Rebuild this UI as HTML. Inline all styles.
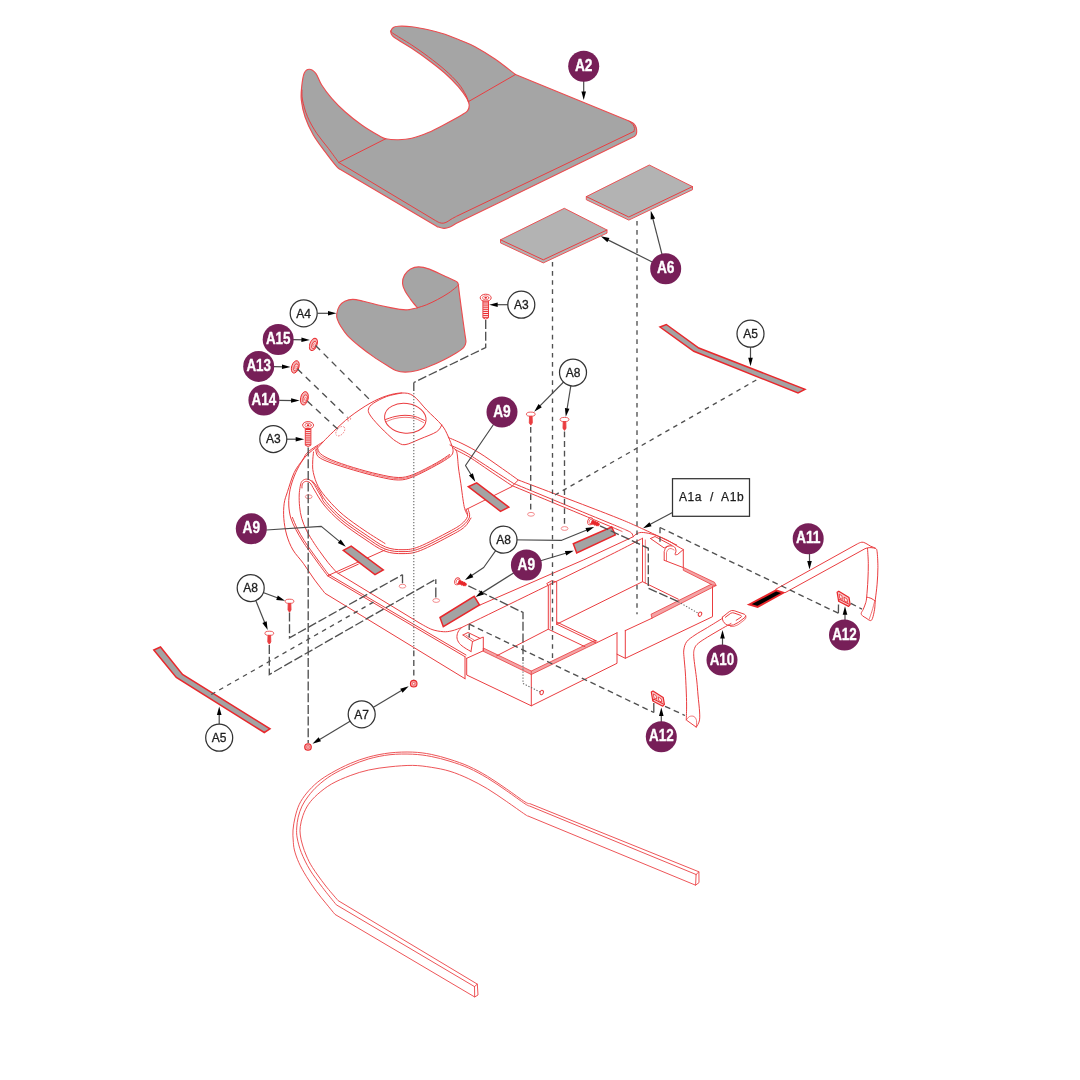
<!DOCTYPE html>
<html lang="en"><head><meta charset="utf-8"><title>Exploded parts diagram</title>
<style>
html,body{margin:0;padding:0;background:#fff;}
body{width:1080px;height:1080px;overflow:hidden;font-family:"Liberation Sans",sans-serif;}
svg{display:block;}
.r{fill:none;stroke:#ea3d40;stroke-width:1;stroke-linejoin:round;stroke-linecap:round;}
.rt{fill:none;stroke:#ec4c4f;stroke-width:.95;stroke-linejoin:round;stroke-linecap:round;}
.r2{fill:none;stroke:#ea3d40;stroke-width:.7;stroke-linejoin:round;stroke-linecap:round;}
.rw{fill:#fff;stroke:#ea3d40;stroke-width:1;stroke-linejoin:round;}
.rh{fill:#fff;stroke:#ef6568;stroke-width:.75;}
.rf{fill:#ef5a5c;stroke:#ea3d40;stroke-width:.6;stroke-linejoin:round;}
.hb{fill:#f3a3a5;stroke:#ea3d40;stroke-width:.8;stroke-linejoin:round;}
.rb{fill:none;stroke:#e8282c;stroke-width:1.3;stroke-linejoin:round;stroke-linecap:round;}
.g{fill:#a5a5a5;stroke:#ec4d50;stroke-width:1.15;stroke-linejoin:round;}
.g2{fill:#b3b3b3;stroke:#ec4d50;stroke-width:.95;stroke-linejoin:round;}
.gs{fill:#a3a3a3;stroke:#e8282c;stroke-width:1.5;stroke-linejoin:miter;}
.bk{fill:#111;stroke:#e8282c;stroke-width:1.2;stroke-linejoin:miter;}
.k{fill:none;stroke:#4a4a4a;stroke-width:1.2;stroke-linejoin:round;}
.ah{fill:#000;stroke:none;}
.d{fill:none;stroke:#505050;stroke-width:1.35;stroke-dasharray:9 2.7;}
.d2{fill:none;stroke:#505050;stroke-width:1.35;stroke-dasharray:4.6 4.5;}
.d3{fill:none;stroke:#505050;stroke-width:1.35;stroke-dasharray:5.8 3.8;}
.d4{fill:none;stroke:#505050;stroke-width:1.35;stroke-dasharray:6.5 5;}
.ds{fill:none;stroke:#505050;stroke-width:1.35;}
.dd{fill:none;stroke:#666;stroke-width:1.1;stroke-dasharray:1.3 1.7;}
.dr{fill:none;stroke:#ea3d40;stroke-width:.6;stroke-dasharray:1.5 1.2;}
.bp{fill:#771f58;}
.bw{fill:#fff;stroke:#333;stroke-width:1.25;}
.bx{fill:#fff;stroke:#333;stroke-width:1.25;}
.tp{stroke:#fff;stroke-width:.35px;stroke-linejoin:round;fill:#fff;font-family:"Liberation Sans",sans-serif;font-weight:700;font-size:16.3px;text-anchor:middle;}
.tw{stroke:#222;stroke-width:.3px;fill:#1a1a1a;font-family:"Liberation Sans",sans-serif;font-size:12px;text-anchor:middle;}
.tb{stroke:#222;stroke-width:.25px;fill:#1a1a1a;font-family:"Liberation Sans",sans-serif;font-size:12px;text-anchor:middle;letter-spacing:.6px;}
</style></head>
<body>
<svg width="1080" height="1080" viewBox="0 0 1080 1080">
<defs><filter id="soft" x="0" y="0" width="1080" height="1080" filterUnits="userSpaceOnUse" color-interpolation-filters="sRGB"><feGaussianBlur stdDeviation="0.45"/></filter></defs>
<g filter="url(#soft)">
<rect x="0" y="0" width="1080" height="1080" fill="#fff"/>
<path class="g" d="M515.5,74.5L629,121C629.83,121.47 632.78,122.63 634,123.8C635.22,124.97 635.9,126.33 636.3,128C636.7,129.67 636.73,132.37 636.4,133.8C636.07,135.23 634.65,136.13 634.3,136.6L456,223.6C455,224.17 452,226.2 450,227C448,227.8 446.17,228.47 444,228.4C441.83,228.33 438.17,226.9 437,226.6L340,169.3C339.45,168.87 339.2,169.63 336.7,166.7C334.2,163.77 328.9,156.98 325,151.7C321.1,146.42 316.63,140.83 313.3,135C309.97,129.17 307,122.53 305,116.7C303,110.87 301.85,105 301.3,100C300.75,95 301.22,91.15 301.7,86.7C302.18,82.25 302.95,76.22 304.2,73.3C305.45,70.38 307.27,69.2 309.2,69.2C311.13,69.2 313.72,70.67 315.8,73.3C317.88,75.93 319.05,80.83 321.7,85C324.35,89.17 327.82,93.85 331.7,98.3C335.58,102.75 340,107.25 345,111.7C350,116.15 356.15,121.07 361.7,125C367.25,128.93 374.28,133.02 378.3,135.3C382.32,137.58 382.47,137.97 385.8,138.7C389.13,139.43 393.98,139.77 398.3,139.7C402.62,139.63 406.7,139.5 411.7,138.3C416.7,137.1 422.75,134.85 428.3,132.5C433.85,130.15 439.43,127.12 445,124.2C450.57,121.28 457.95,117.23 461.7,115C465.45,112.77 466.25,112.47 467.5,110.8C468.75,109.13 469.33,107.08 469.2,105C469.07,102.92 468.52,101.35 466.7,98.3C464.88,95.25 461.92,90.87 458.3,86.7C454.68,82.53 450,77.75 445,73.3C440,68.85 433.85,64.17 428.3,60C422.75,55.83 416.7,51.63 411.7,48.3C406.7,44.97 401.5,42.08 398.3,40C395.1,37.92 393.75,37.18 392.5,35.8C391.25,34.42 390.67,33.08 390.8,31.7C390.93,30.32 392.05,28.42 393.3,27.5C394.55,26.58 395.23,26.33 398.3,26.2C401.37,26.07 406.7,26.12 411.7,26.7C416.7,27.28 422.75,28.45 428.3,29.7C433.85,30.95 439.43,32.35 445,34.2C450.57,36.05 456.7,38.72 461.7,40.8C466.7,42.88 469.45,43.67 475,46.7C480.55,49.73 488.25,54.37 495,59C501.75,63.63 512.08,71.92 515.5,74.5Z"/>
<path class="r" d="M633.8,131.5L456.5,216.3C455.58,216.8 452.58,218.37 451,219.3C449.42,220.23 448.3,221.25 447,221.9C445.7,222.55 444.48,223.08 443.2,223.2C441.92,223.32 440.58,223.03 439.3,222.6C438.02,222.17 436.13,220.93 435.5,220.6L338.7,162.5C336.97,160.13 331.97,153.17 328.3,148.3C324.63,143.43 320.17,138.57 316.7,133.3C313.23,128.03 309.87,122.25 307.5,116.7C305.13,111.15 303.42,104.45 302.5,100C301.58,95.55 302.08,91.67 302,90"/>
<path class="r" d="M629,121C629.67,121.58 632.08,123.25 633,124.5C633.92,125.75 634.37,127.33 634.5,128.5C634.63,129.67 633.92,131 633.8,131.5"/>
<path class="r" d="M468.3,101.7C467.88,100.58 467.47,98.07 465.8,95C464.13,91.93 461.77,87.47 458.3,83.3C454.83,79.13 450,74.43 445,70C440,65.57 433.85,60.87 428.3,56.7C422.75,52.53 417.67,48.95 411.7,45C405.73,41.05 395.95,35.42 392.5,33C389.05,30.58 391.25,30.92 391,30.5"/>
<path class="r" d="M385.8,138.7 L338.7,162.5"/>
<path class="r" d="M468.3,101.7 L515.5,74.5"/>
<path class="g2" d="M586.3,196.6 L649.3,165 L692.5,186.6 L692.5,189.7 L628.8,220.1 L586.3,199.7Z"/>
<path class="r" d="M586.3,196.6 L628.8,217 L692.5,186.6"/>
<path class="g2" d="M500.5,239.8 L564.3,208.3 L607,230 L607,233.1 L543.3,262.9 L500.5,242.9Z"/>
<path class="r" d="M500.5,239.8 L543.3,259.8 L607,230"/>
<path class="g" d="M417.3,307.8C416.18,306.38 412.62,302.05 410.6,299.3C408.58,296.55 406.55,293.98 405.2,291.3C403.85,288.62 402.62,285.9 402.5,283.2C402.38,280.5 403.15,277.45 404.5,275.1C405.85,272.75 408.25,270.48 410.6,269.1C412.95,267.72 415.47,266.8 418.6,266.8C421.73,266.8 425.15,267.6 429.4,269.1C433.65,270.6 439.85,273.85 444.1,275.8C448.35,277.75 452.65,279.67 454.9,280.8C457.15,281.93 457.02,281.9 457.6,282.6C458.18,283.3 458.27,284.6 458.4,285C458.6,286.72 458.95,290.23 459.6,295.3C460.25,300.37 461.42,308.92 462.3,315.4C463.18,321.88 464.3,329.72 464.9,334.2C465.5,338.68 466.12,340.07 465.9,342.3C465.68,344.53 465.22,345.82 463.6,347.6C461.98,349.38 459.45,350.98 456.2,353C452.95,355.02 448.35,357.57 444.1,359.7C439.85,361.83 435.17,364 430.7,365.8C426.23,367.6 421.55,369.45 417.3,370.5C413.05,371.55 408.78,372.1 405.2,372.1C401.62,372.1 398.93,371.67 395.8,370.5C392.67,369.33 390.2,367.45 386.4,365.1C382.6,362.75 377.48,359.53 373,356.4C368.52,353.27 363.75,349.77 359.5,346.3C355.25,342.83 350.63,338.95 347.5,335.6C344.37,332.25 342.38,328.9 340.7,326.2C339.02,323.5 338.07,321.42 337.4,319.4C336.73,317.38 336.37,316.33 336.7,314.1C337.03,311.87 338.05,308.13 339.4,306C340.75,303.87 342.57,302.42 344.8,301.3C347.03,300.18 349.67,299.3 352.8,299.3C355.93,299.3 359.57,300.4 363.6,301.3C367.63,302.2 372.53,303.65 377,304.7C381.47,305.75 386.6,306.82 390.4,307.6C394.2,308.38 396.88,309.03 399.8,309.4C402.72,309.77 404.98,310.07 407.9,309.8C410.82,309.53 415.73,308.13 417.3,307.8Z"/>
<path class="r" d="M417.3,307.8C418.87,307.28 423.35,306.07 426.7,304.7C430.05,303.33 433.82,301.5 437.4,299.6C440.98,297.7 445.07,295.37 448.2,293.3C451.33,291.23 454.5,288.58 456.2,287.2C457.9,285.82 458.03,285.37 458.4,285"/>
<g id="base">
<path class="r" d="M323.3,441.7C320.8,443.37 311.77,448.65 308.3,451.7C304.83,454.75 304.85,456.53 302.5,460C300.15,463.47 296.7,467.22 294.2,472.5C291.7,477.78 289.17,486.57 287.5,491.7C285.83,496.83 284.82,498.87 284.2,503.3C283.58,507.73 283.38,513.02 283.8,518.3C284.22,523.58 285.17,529.72 286.7,535C288.23,540.28 290.23,545.28 293,550C295.77,554.72 299.8,558.47 303.3,563.3C306.8,568.13 310.38,574 314,579C317.62,584 323.17,590.92 325,593.3L465,678.7"/>
<path class="r" d="M318,446C316,447.67 309.42,452.17 306,456C302.58,459.83 299.87,464.5 297.5,469C295.13,473.5 293.18,478.67 291.8,483C290.42,487.33 289.7,491.17 289.2,495C288.7,498.83 288.53,502.17 288.8,506C289.07,509.83 289.63,514.08 290.8,518C291.97,521.92 293.85,525.67 295.8,529.5C297.75,533.33 300.3,537.5 302.5,541C304.7,544.5 306.42,546.83 309,550.5C311.58,554.17 314.92,558.78 318,563C321.08,567.22 325.92,573.67 327.5,575.8L465,656.7"/>
<path class="r" d="M292.4,517.4C293.23,519.32 295.45,525.07 297.4,528.9C299.35,532.73 301.9,536.9 304.1,540.4C306.3,543.9 308.02,546.23 310.6,549.9C313.18,553.57 316.52,558.18 319.6,562.4C322.68,566.62 327.52,573.07 329.1,575.2L328.6,574.4L466,655"/>
<path class="r" d="M465,656.7 L465,678.7"/>
<path class="r" d="M322.2,498.3C321.28,496.73 318.18,491.4 316.7,488.9C315.22,486.4 314.42,484.78 313.3,483.3C312.18,481.82 311.28,480.68 310,480C308.72,479.32 306.97,478.95 305.6,479.2C304.23,479.45 302.7,480.28 301.8,481.5C300.9,482.72 300.63,484.25 300.2,486.5C299.77,488.75 299.3,491.63 299.2,495C299.1,498.37 299.18,502.82 299.6,506.7C300.02,510.58 300.52,514.28 301.7,518.3C302.88,522.32 304.62,526.63 306.7,530.8C308.78,534.97 311.98,539.82 314.2,543.3C316.42,546.78 317.7,548.5 320,551.7C322.3,554.9 325.22,559.03 328,562.5C330.78,565.97 335.25,570.83 336.7,572.5L420,623.3C422,624.33 428.12,628.1 432,629.5C435.88,630.9 439.97,631.48 443.3,631.7C446.63,631.92 448.93,631.5 452,630.8C455.07,630.1 460.08,628.05 461.7,627.5C484.75,616.25 569.87,574.87 600,560C630.13,545.13 635.42,541.92 642.5,538.3"/>
<path class="r" d="M322.2,498.3C322.67,499.13 321.75,499.68 325,503.3C328.25,506.92 335.03,514.43 341.7,520C348.37,525.57 357.78,531.87 365,536.7C372.22,541.53 378.67,546.52 385,549C391.33,551.48 397.17,551.68 403,551.6C408.83,551.52 412.17,551.52 420,548.5C427.83,545.48 442.83,537.33 450,533.5C457.17,529.67 459.75,528.25 463,525.5C466.25,522.75 468.67,519.75 469.5,517C470.33,514.25 468.25,510.33 468,509"/>
<path class="r" d="M302,488C302.05,487.33 301.7,485.1 302.3,484C302.9,482.9 304.32,481.6 305.6,481.4C306.88,481.2 308.53,481.37 310,482.8C311.47,484.23 312.07,486.3 314.4,490C316.73,493.7 319.62,499.7 324,505C328.38,510.3 334.03,516.2 340.7,521.8C347.37,527.4 356.7,533.73 364,538.6C371.3,543.47 378,548.5 384.5,551C391,553.5 397,553.68 403,553.6C409,553.52 412.5,553.55 420.5,550.5C428.5,547.45 443.67,539.22 451,535.3C458.33,531.38 461.17,529.88 464.5,527C467.83,524.12 469.92,519.5 471,518"/>
<path class="r" d="M311.9,480.5C312.83,481.67 315.12,483.98 317.5,487.5C319.88,491.02 322,496.48 326.2,501.6C330.4,506.72 336.07,512.67 342.7,518.2C349.33,523.73 358.87,530 366,534.8C373.13,539.6 379.33,544.52 385.5,547C391.67,549.48 397.33,549.78 403,549.7C408.67,549.62 411.83,549.5 419.5,546.5C427.17,543.5 442,535.45 449,531.7C456,527.95 458.42,526.53 461.5,524C464.58,521.47 466.75,519 467.5,516.5C468.25,514 466.25,510.25 466,509"/>
<path class="r" d="M327.5,575.8 L385,550"/>
<path class="r" d="M338.3,573.3 L358.3,564.2"/>
<path class="r" d="M511.7,486.7 L466.7,509.2"/>
<path class="r" d="M448.3,437.5C450.75,438.58 457.72,441.37 463,444C468.28,446.63 473.83,449.47 480,453.3C486.17,457.13 493.62,462.55 500,467C506.38,471.45 515.25,477.83 518.3,480C533.58,485.83 589.17,506.8 610,515C630.83,523.2 632.18,524.2 643.3,529.2C654.42,534.2 671.13,542.37 676.7,545"/>
<path class="r" d="M450,445C452.5,446.17 459.67,449 465,452C470.33,455 473.95,457.78 482,463C490.05,468.22 508.08,479.92 513.3,483.3C529.42,489.97 591.22,515.52 610,523.3C628.78,531.08 622.42,528.38 626,530C629.58,531.62 630.28,531.88 631.5,533C632.72,534.12 633,536.08 633.3,536.7"/>
<path class="r" d="M455,449.5C457.5,450.83 464.17,453.92 470,457.5C475.83,461.08 483.05,466.33 490,471C496.95,475.67 508.08,483.08 511.7,485.5C527.75,492.17 589.62,517.83 608,525.5C626.38,533.17 619.67,530.5 622,531.5"/>
<path class="r" d="M518.3,480 L511.7,486.7"/>
<path class="r" d="M480,605 L583.3,560 L633.3,536.7"/>
<path class="r" d="M315.8,450C317.05,448.62 320.38,444.75 323.3,441.7C326.22,438.65 328.85,435.87 333.3,431.7C337.75,427.53 343.88,421.43 350,416.7C356.12,411.97 363.88,406.78 370,403.3C376.12,399.82 381.42,397.52 386.7,395.8C391.98,394.08 397.27,393 401.7,393C406.13,393 409.13,392.97 413.3,395.8C417.47,398.63 421.97,405.13 426.7,410C431.43,414.87 438.15,420.67 441.7,425C445.25,429.33 446.2,432.25 448,436C449.8,439.75 451.75,445.58 452.5,447.5"/>
<path class="r" d="M401.7,393C399.2,393.58 391.43,394.78 386.7,396.5C381.97,398.22 376.33,401.22 373.3,403.3C370.27,405.38 369.05,407.05 368.5,409C367.95,410.95 368.37,412.33 370,415C371.63,417.67 374.97,421.42 378.3,425C381.63,428.58 386.93,433.72 390,436.5C393.07,439.28 394.2,440.33 396.7,441.7C399.2,443.07 401.12,445.15 405,444.7C408.88,444.25 414.72,441.17 420,439C425.28,436.83 433.08,434.03 436.7,431.7C440.32,429.37 440.87,426.12 441.7,425"/>
<ellipse class="r" cx="405.3" cy="418.3" rx="20.8" ry="14.8" transform="rotate(7 405.3 418.3)"/>
<path class="r" d="M385.5,419.5C387.08,419 391.75,417.2 395,416.5C398.25,415.8 401.67,415.3 405,415.3C408.33,415.3 411.75,415.63 415,416.5C418.25,417.37 422.92,419.83 424.5,420.5"/>
<path class="r2" d="M386.5,421.5C387.92,421 391.92,419.2 395,418.5C398.08,417.8 401.67,417.3 405,417.3C408.33,417.3 411.92,417.63 415,418.5C418.08,419.37 422.08,421.83 423.5,422.5"/>
<path class="r" d="M315.8,450C316.22,451.12 315.93,454.62 318.3,456.7C320.67,458.78 324.17,460.28 330,462.5C335.83,464.72 345.25,467.63 353.3,470C361.35,472.37 370.8,475.03 378.3,476.7C385.8,478.37 392.47,480 398.3,480C404.13,480 406.9,479.2 413.3,476.7C419.7,474.2 430.58,468.33 436.7,465C442.82,461.67 447.28,458.87 450,456.7C452.72,454.53 452.58,453.53 453,452C453.42,450.47 452.58,448.25 452.5,447.5"/>
<path class="r" d="M317.5,448C318,448.97 318.13,451.8 320.5,453.8C322.87,455.8 326.23,457.72 331.7,460C337.17,462.28 345.53,465.13 353.3,467.5C361.07,469.87 370.8,472.53 378.3,474.2C385.8,475.87 392.47,477.45 398.3,477.5C404.13,477.55 406.9,476.95 413.3,474.5C419.7,472.05 430.67,466.13 436.7,462.8C442.73,459.47 447.37,455.88 449.5,454.5"/>
<path class="r2" d="M316.8,449C317.25,450.03 317.13,453.17 319.5,455.2C321.87,457.23 325.37,458.95 331,461.2C336.63,463.45 345.42,466.33 353.3,468.7C361.18,471.07 370.8,473.73 378.3,475.4C385.8,477.07 392.47,478.67 398.3,478.7C404.13,478.73 406.9,478.07 413.3,475.6C419.7,473.13 430.62,467.23 436.7,463.9C442.78,460.57 447.62,456.98 449.8,455.6"/>
<path class="r" d="M313.5,452C313.37,453.67 312.73,458.58 312.7,462C312.67,465.42 312.37,468.38 313.3,472.5C314.23,476.62 315.8,482.12 318.3,486.7C320.8,491.28 324.13,495.28 328.3,500C332.47,504.72 337.18,509.87 343.3,515C349.42,520.13 358.05,526.05 365,530.8C371.95,535.55 381.67,541.38 385,543.5"/>
<path class="r" d="M452.5,447.5C453.2,448.2 455.7,448.28 456.7,451.7C457.7,455.12 457.82,462.73 458.5,468C459.18,473.27 459.85,476.85 460.8,483.3C461.75,489.75 463.08,501.42 464.2,506.7C465.32,511.98 466.95,513.62 467.5,515"/>
<ellipse class="dr" cx="340.3" cy="431.2" rx="5.6" ry="3.4" transform="rotate(-48 340.3 431.2)"/>
<ellipse class="dr" cx="349" cy="419.5" rx="2" ry="1" transform="rotate(-35 349 419.5)"/>
<ellipse class="rh" cx="308.7" cy="496.7" rx="3.4" ry="1.9"/>
<ellipse class="rh" cx="402.5" cy="586.2" rx="3.4" ry="1.9"/>
<ellipse class="rh" cx="436.2" cy="600.5" rx="3.4" ry="1.9"/>
<ellipse class="rh" cx="531" cy="514.3" rx="3.4" ry="1.9"/>
<ellipse class="rh" cx="564.6" cy="528.5" rx="3.4" ry="1.9"/>
</g>
<g id="trays">
<path class="r" d="M466.7,658.3 L466.7,675 L531.3,705.8 L617,663.3 L617,632.8"/>
<path class="r" d="M531.3,674.2 L531.3,705.8"/>
<path class="hb" d="M483.3,648 L531.3,671 L595,640.3 L595.8,643.2 L531.3,674.5 L483.3,651.3Z"/>
<path class="r2" d="M531.3,671 L531.3,674.5"/>
<path class="r" d="M595.8,643.2 L617,632.8"/>
<path class="r" d="M483.3,650.8 L466.7,658.3"/>
<path class="r" d="M496.7,655.8 L548.3,629.2 L585,646.7"/>
<path class="r" d="M548.3,629.2 L548.3,585.5 L546.7,583.6 L551.5,580.8 L556.7,581.8 L556.7,624.2"/>
<path class="r2" d="M550.3,583 L550.3,628.3"/>
<path class="r" d="M556.7,624.2 L595,642.5"/>
<path class="r" d="M556.7,622 L597,641.2"/>
<path class="r" d="M556.7,624.2 L642.5,581.7 L678.3,599.2"/>
<path class="r" d="M642.5,538.3 L642.5,581.7"/>
<path class="r2" d="M645.3,540 L645.3,583"/>
<path class="hb" d="M651,614.3 L712.5,583.6 L716.2,585.5 L652,618.2Z"/>
<path class="r" d="M652,618.2 L625.3,630.6"/>
<path class="hb" d="M683.3,567.4 L714.5,582.3 L716.2,585.5 L712.5,585 L683.3,570.3Z"/>
<path class="r" d="M712.5,586.7 L712.5,616.7 L625.3,658.3 L625.3,630.3"/>
<path class="r" d="M617,654.2 L625.3,658.3"/>
<path class="r" d="M664.2,560L664.2,551.5C664.5,550.83 665.03,548.45 666,547.5C666.97,546.55 668.58,545.88 670,545.8C671.42,545.72 673.5,546.13 674.5,547C675.5,547.87 675.92,549.75 676,551C676.08,552.25 674.75,553.92 675,554.5C675.25,555.08 677.08,554.5 677.5,554.5L683.3,549.5L683.3,567.6L664.2,560.3"/>
<path class="r2" d="M666.5,560.6L666.5,552.5C666.75,552 667.25,550.17 668,549.5C668.75,548.83 670,548.42 671,548.5C672,548.58 673.5,549.75 674,550"/>
<path class="r" d="M650.5,538.5 L664.2,548 L668,546"/>
<path class="r" d="M650.5,538.5 L655,536.5 L672,545.5"/>
<path class="r" d="M633.3,536.7C633.92,536.17 635.33,534.2 637,533.5C638.67,532.8 640.3,532.25 643.3,532.5C646.3,532.75 651.05,533.75 655,535C658.95,536.25 663.33,538.17 667,540C670.67,541.83 674.28,544.42 677,546C679.72,547.58 682.25,548.92 683.3,549.5"/>
<path class="r" d="M461.7,627.5C461.08,628.25 458.78,630.25 458,632C457.22,633.75 456.75,636.08 457,638C457.25,639.92 458.17,641.83 459.5,643.5C460.83,645.17 463.08,646.67 465,648C466.92,649.33 470,650.92 471,651.5"/>
<path class="r" d="M471,651.5 L472.5,641.5 L483.3,637 L483.3,650.8"/>
<path class="r" d="M463,635 L472.5,641.5"/>
<path class="r" d="M463,635 L468,632.5 L480,638.3"/>
<path class="r2" d="M466,635.3 L474,640"/>
<ellipse class="r" cx="541.7" cy="692.5" rx="1.6" ry="2.2" transform="rotate(25 541.7 692.5)"/>
<ellipse class="r" cx="700" cy="614.2" rx="1.6" ry="2.2" transform="rotate(25 700 614.2)"/>
</g>
<g id="strips">
<path class="gs" d="M468.3,486.7 L476.7,482.8 L508.8,507.2 L500.5,511.3Z"/>
<path class="gs" d="M343.3,550.3 L351.2,546.2 L383.3,570 L375,574.7Z"/>
<path class="gs" d="M573.3,543.7 L611.7,527 L615.3,535 L576.7,553Z"/>
<path class="gs" d="M440,617.5 L474.2,596.3 L479.5,605 L443.3,626.7Z"/>
<path class="gs" d="M660,327 L666.3,324.5 L698.8,348 L805,389.3 L798,393 L693.8,351.3Z"/>
<path class="gs" d="M153.8,650 L160.5,647 L182.5,674.5 L270,728.8 L264.3,732.5 L176.3,677.5Z"/>
</g>
<g id="screws">
<ellipse class="rw" cx="308.1" cy="425.2" rx="5.5" ry="3.6"/><ellipse class="r2" cx="308.1" cy="425.2" rx="3.2" ry="2"/><ellipse cx="308.1" cy="425.2" rx="1.3" ry="1" fill="#e8282c"/><path class="rw" d="M305.3,428.5 L305.3,445.2 Q308.1,447.9 310.9,445.2 L310.9,428.5 Z"/><path d="M305.5,429.5L310.7,429.5M305.5,431.4L310.7,431.4M305.5,433.3L310.7,433.3M305.5,435.2L310.7,435.2M305.5,437.1L310.7,437.1M305.5,439L310.7,439M305.5,440.9L310.7,440.9M305.5,442.8L310.7,442.8M305.5,444.7L310.7,444.7" stroke="#e8282c" stroke-width="1" fill="none"/>
<ellipse class="rw" cx="485.7" cy="297.8" rx="5.5" ry="3.6"/><ellipse class="r2" cx="485.7" cy="297.8" rx="3.2" ry="2"/><ellipse cx="485.7" cy="297.8" rx="1.3" ry="1" fill="#e8282c"/><path class="rw" d="M482.9,301.1 L482.9,317.8 Q485.7,320.5 488.5,317.8 L488.5,301.1 Z"/><path d="M483.1,302.1L488.3,302.1M483.1,304L488.3,304M483.1,305.9L488.3,305.9M483.1,307.8L488.3,307.8M483.1,309.7L488.3,309.7M483.1,311.6L488.3,311.6M483.1,313.5L488.3,313.5M483.1,315.4L488.3,315.4M483.1,317.3L488.3,317.3" stroke="#e8282c" stroke-width="1" fill="none"/>
<ellipse class="rw" cx="530.8" cy="414.2" rx="4.4" ry="2.1" style="stroke-width:.85"/><path d="M529.5,416.3 L529.3,422.9 L530.8,425.1 L532.3,422.9 L532.1,416.3 Z" fill="#ea3d40" stroke="#ea3d40" stroke-width=".9" stroke-linejoin="round"/>
<ellipse class="rw" cx="564.5" cy="419.5" rx="4.4" ry="2.1" style="stroke-width:.85"/><path d="M563.2,421.6 L563,428.2 L564.5,430.4 L566,428.2 L565.8,421.6 Z" fill="#ea3d40" stroke="#ea3d40" stroke-width=".9" stroke-linejoin="round"/>
<ellipse class="rw" cx="289.5" cy="601.3" rx="4.4" ry="2.1" style="stroke-width:.85"/><path d="M288.2,603.4 L288,610 L289.5,612.2 L291,610 L290.8,603.4 Z" fill="#ea3d40" stroke="#ea3d40" stroke-width=".9" stroke-linejoin="round"/>
<ellipse class="rw" cx="269.3" cy="633.3" rx="4.4" ry="2.1" style="stroke-width:.85"/><path d="M268,635.4 L267.8,642 L269.3,644.2 L270.8,642 L270.6,635.4 Z" fill="#ea3d40" stroke="#ea3d40" stroke-width=".9" stroke-linejoin="round"/>
<g transform="translate(590.3 521.3) rotate(22)"><ellipse class="rw" cx="0" cy="0" rx="2.6" ry="3.6" style="stroke-width:.9"/><ellipse class="r2" cx="0.4" cy="0" rx="1.5" ry="2.3"/><path d="M1.5,-1.7 L9,-1.4 L10,0 L9,1.4 L1.5,1.7 Z" fill="#e8282c" stroke="#e8282c" stroke-width=".5"/><path d="M3,-2.3L3.6,2.3M5,-2.3L5.6,2.3M7,-2.2L7.6,2.2" stroke="#e8282c" stroke-width=".9" fill="none"/></g>
<g transform="translate(457.3 581.3) rotate(22)"><ellipse class="rw" cx="0" cy="0" rx="2.6" ry="3.6" style="stroke-width:.9"/><ellipse class="r2" cx="0.4" cy="0" rx="1.5" ry="2.3"/><path d="M1.5,-1.7 L9,-1.4 L10,0 L9,1.4 L1.5,1.7 Z" fill="#e8282c" stroke="#e8282c" stroke-width=".5"/><path d="M3,-2.3L3.6,2.3M5,-2.3L5.6,2.3M7,-2.2L7.6,2.2" stroke="#e8282c" stroke-width=".9" fill="none"/></g>
<circle cx="308" cy="747" r="3.3" fill="#f4a0a2" stroke="#e8282c" stroke-width="1.1"/><circle cx="308" cy="747" r="1.2" fill="#fff" stroke="#e8282c" stroke-width=".6"/>
<circle cx="413.7" cy="683.7" r="3.3" fill="#f4a0a2" stroke="#e8282c" stroke-width="1.1"/><circle cx="413.7" cy="683.7" r="1.2" fill="#fff" stroke="#e8282c" stroke-width=".6"/>
<g transform="translate(313.4 344.4) rotate(22)"><ellipse rx="3.6" ry="6.4" fill="#f5b3b4" stroke="#e8282c" stroke-width=".9"/><ellipse cx=".8" cy=".3" rx="1.98" ry="3.84" fill="#fbe3e3" stroke="#e8282c" stroke-width=".8"/><ellipse cx="1" cy=".5" rx=".9" ry="1.6" fill="#fff" stroke="#e8282c" stroke-width=".5"/></g>
<g transform="translate(295.3 366.9) rotate(18)"><ellipse rx="3.6" ry="6.4" fill="#f5b3b4" stroke="#e8282c" stroke-width=".9"/><ellipse cx=".8" cy=".3" rx="1.98" ry="3.84" fill="#fbe3e3" stroke="#e8282c" stroke-width=".8"/><ellipse cx="1" cy=".5" rx=".9" ry="1.6" fill="#fff" stroke="#e8282c" stroke-width=".5"/></g>
<g transform="translate(304.4 398.3) rotate(12)"><ellipse rx="3.8" ry="6.8" fill="#f5b3b4" stroke="#e8282c" stroke-width=".9"/><ellipse cx=".8" cy=".3" rx="2.09" ry="4.08" fill="#fbe3e3" stroke="#e8282c" stroke-width=".8"/><ellipse cx="1" cy=".5" rx=".9" ry="1.6" fill="#fff" stroke="#e8282c" stroke-width=".5"/></g>
</g>
<g id="straps">
<path class="r" d="M775.8,589.2L857.5,543.8C858,543.58 859.53,542.75 860.5,542.5C861.47,542.25 862.22,542.05 863.3,542.3C864.38,542.55 865.75,543.33 867,544C868.25,544.67 869.4,545.58 870.8,546.3C872.2,547.02 874.35,547.4 875.4,548.3C876.45,549.2 876.68,548.5 877.1,551.7C877.52,554.9 877.9,562.08 877.9,567.5C877.9,572.92 877.52,578.92 877.1,584.2C876.68,589.48 875.82,595.03 875.4,599.2C874.98,603.37 875.08,606.02 874.6,609.2C874.12,612.38 873.22,616.4 872.5,618.3C871.78,620.2 871.38,620.65 870.3,620.6C869.22,620.55 867.3,618.8 866,618C864.7,617.2 863.3,616.58 862.5,615.8C861.7,615.02 861.07,614.4 861.2,613.3C861.33,612.2 862.53,611 863.3,609.2C864.07,607.4 865.23,604.58 865.8,602.5C866.37,600.42 866.35,600.45 866.7,596.7C867.05,592.95 867.63,585.57 867.9,580C868.17,574.43 868.37,568.58 868.3,563.3C868.23,558.02 867.63,550.8 867.5,548.3"/>
<path class="r" d="M785.4,592.5L865,548.7C865.42,548.57 866.5,548.08 867.5,547.9C868.5,547.72 869.68,547.53 871,547.6C872.32,547.67 874.67,548.18 875.4,548.3"/>
<path class="r" d="M866.7,597.1C867.42,597.3 869.62,597.68 871,598.3C872.38,598.92 874.33,600.38 875,600.8"/>
<path class="r2" d="M874.6,601.5C874.17,603.08 872.9,608.05 872,611C871.1,613.95 869.67,617.83 869.2,619.2"/>
<path d="M749.2,604.5 L776,590.4 L783.3,592.8 L757.6,606.9Z" fill="#000" stroke="#e8282c" stroke-width="1.9" stroke-linejoin="miter"/>
<path class="r" d="M722.5,618.3C720,619.83 712.08,624.72 707.5,627.5C702.92,630.28 698.47,632.63 695,635C691.53,637.37 688.57,639.2 686.7,641.7C684.83,644.2 684.22,647.08 683.8,650C683.38,652.92 683.95,655.53 684.2,659.2C684.45,662.87 684.97,666.87 685.3,672C685.63,677.13 685.98,684.5 686.2,690C686.42,695.5 686.58,700 686.6,705C686.62,710 686.35,717.5 686.3,720L696.3,727.2C696.8,726.17 698.75,723.53 699.3,721C699.85,718.47 699.82,716.33 699.6,712C699.38,707.67 698.48,700.33 698,695C697.52,689.67 697.4,686.38 696.7,680C696,673.62 694.15,661.98 693.8,656.7C693.45,651.42 693.85,650.53 694.6,648.3C695.35,646.07 696.15,645.17 698.3,643.3C700.45,641.43 703.47,639.6 707.5,637.1C711.53,634.6 718.58,630.57 722.5,628.3C726.42,626.03 729.58,624.3 731,623.5"/>
<path class="r2" d="M686.3,720C686.83,719.42 688.22,717.08 689.5,716.5C690.78,715.92 692.83,715.83 694,716.5C695.17,717.17 696.12,718.72 696.5,720.5C696.88,722.28 696.33,726.08 696.3,727.2"/>
<path class="r" d="M722.3,617.2 L729.3,611.6 Q731.5,609.9 734.2,610.7 L744.3,614.2 Q746.8,615.4 745,617.4 L738.5,622.3 Q733.5,625.8 729,625.6 Q725.5,625.3 723.3,621.5 Q722,619 722.3,617.2"/>
<path class="r" d="M725.3,617.3 L730.8,613.2 Q732.3,612.4 734,613 L740.8,615.4 Q742.2,616.2 741,617.2 L736.2,620.3"/>
<path class="r2" d="M746,616.2 Q746.6,618.3 744.6,619.8 L738,624.8 Q734,627 730.5,626.6"/>
</g>
<g transform="translate(843.4 598.8)"><path d="M-6.3,-6.6 L-4.6,-7.6 L5.6,-1.2 L6.8,5.8 L5.2,7.6 L-4.8,2.4 Z" fill="#f7c4c5" stroke="#e8282c" stroke-width="1.2" stroke-linejoin="round"/><path d="M-4.2,-4.6 L-1.5,-3 L-1,0.6 L-3.6,-0.8 Z M0.6,-1.6 L3.6,0.2 L4.2,3.6 L1.2,2 Z" fill="#fff" stroke="#e8282c" stroke-width=".8"/><path d="M-4.8,2.4 L-4,0.4 L6,5.6" fill="none" stroke="#e8282c" stroke-width="1"/></g>
<g transform="translate(657.6 698.6)"><path d="M-6.3,-6.6 L-4.6,-7.6 L5.6,-1.2 L6.8,5.8 L5.2,7.6 L-4.8,2.4 Z" fill="#f7c4c5" stroke="#e8282c" stroke-width="1.2" stroke-linejoin="round"/><path d="M-4.2,-4.6 L-1.5,-3 L-1,0.6 L-3.6,-0.8 Z M0.6,-1.6 L3.6,0.2 L4.2,3.6 L1.2,2 Z" fill="#fff" stroke="#e8282c" stroke-width=".8"/><path d="M-4.8,2.4 L-4,0.4 L6,5.6" fill="none" stroke="#e8282c" stroke-width="1"/></g>
<g id="trim">
<path class="rt" d="M698.9,871.8L530,803.7C529.17,803.4 528.95,804.38 525,801.9C521.05,799.42 512.55,793.07 506.3,788.8C500.05,784.53 493.75,780.05 487.5,776.3C481.25,772.55 475.05,769.12 468.8,766.3C462.55,763.48 456.25,761.38 450,759.4C443.75,757.42 437.55,755.62 431.3,754.4C425.05,753.18 419.38,752.35 412.5,752.1C405.62,751.85 397.3,752.08 390,752.9C382.7,753.72 375.33,755.23 368.7,757C362.07,758.77 356.37,760.87 350.2,763.5C344.03,766.13 337.1,769.72 331.7,772.8C326.3,775.88 321.97,778.62 317.8,782C313.63,785.38 309.78,789.38 306.7,793.1C303.62,796.82 301.23,800.28 299.3,804.3C297.37,808.32 296.15,812.92 295.1,817.2C294.05,821.48 293.32,826.2 293,830C292.68,833.8 292.97,836.67 293.2,840C293.43,843.33 293.47,846.25 294.4,850C295.33,853.75 296.82,858.12 298.8,862.5C300.78,866.88 303.38,871.5 306.3,876.3C309.22,881.1 312.97,886.72 316.3,891.3C319.63,895.88 323.18,899.95 326.3,903.8C329.42,907.65 333.55,912.63 335,914.4L474.7,997"/>
<path class="rt" d="M696.1,874.5L530,806.2C529.17,805.8 528.95,806.4 525,803.8C521.05,801.2 512.55,794.88 506.3,790.6C500.05,786.32 493.75,781.85 487.5,778.1C481.25,774.35 475.05,770.9 468.8,768.1C462.55,765.3 456.25,763.23 450,761.3C443.75,759.37 437.55,757.68 431.3,756.5C425.05,755.32 419.38,754.5 412.5,754.2C405.62,753.9 397.3,753.92 390,754.7C382.7,755.48 375.33,757.05 368.7,758.9C362.07,760.75 356.37,763.1 350.2,765.8C344.03,768.5 337.1,771.78 331.7,775.1C326.3,778.42 321.67,782.23 317.8,785.7C313.93,789.17 311.13,792.5 308.5,795.9C305.87,799.3 303.72,802.55 302,806.1C300.28,809.65 299.08,813.55 298.2,817.2C297.32,820.85 296.87,824.53 296.7,828C296.53,831.47 296.43,833.92 297.2,838C297.97,842.08 299.17,847.17 301.3,852.5C303.43,857.83 306.47,864.17 310,870C313.53,875.83 318.12,881.7 322.5,887.5C326.88,893.3 334,901.92 336.3,904.8L474.5,986.6"/>
<path class="rt" d="M695.6,885.2L528,816C527.5,815.73 528.62,816.85 525,814.4C521.38,811.95 512.55,805.57 506.3,801.3C500.05,797.03 493.75,792.55 487.5,788.8C481.25,785.05 475.05,781.72 468.8,778.8C462.55,775.88 456.25,773.22 450,771.3C443.75,769.38 437.55,768.28 431.3,767.3C425.05,766.32 419.38,765.48 412.5,765.4C405.62,765.32 397.3,766.03 390,766.8C382.7,767.57 375.33,768.53 368.7,770C362.07,771.47 356.37,773.28 350.2,775.6C344.03,777.92 337.1,780.82 331.7,783.9C326.3,786.98 321.67,790.7 317.8,794.1C313.93,797.5 310.97,800.75 308.5,804.3C306.03,807.85 304.37,811.7 303,815.4C301.63,819.1 300.75,823.23 300.3,826.5C299.85,829.77 299.93,831.92 300.3,835C300.67,838.08 301.47,841.5 302.5,845C303.53,848.5 304.83,852.25 306.5,856C308.17,859.75 309.42,862.67 312.5,867.5C315.58,872.33 320.73,879.48 325,885C329.27,890.52 335.92,898 338.1,900.6L477.3,984.1"/>
<path class="rt" d="M696.1,874.5 L698.9,871.8 L699,882.6 L695.6,885.2 L696.1,874.5"/>
<path class="rt" d="M474.5,986.6 L477.3,984.1 L478,995 L474.7,997 L474.5,986.6"/>
</g>
<g id="dashes">
<path class="d2" d="M552.5,262 L552.5,658.3"/>
<path class="d2" d="M637,221 L637,614.2"/>
<path class="d" d="M485.7,320 L485.7,347.5 L413.8,382.5"/>
<path class="ds" d="M413.8,382.5 L413.8,391"/>
<path class="dd" d="M413.8,393 L413.8,649"/>
<path class="d3" d="M413.8,650.5 L413.8,679.5"/>
<path class="d" d="M308.2,447.5 L308.2,743"/>
<path class="d4" d="M315.5,345.5 L371.3,401.3"/>
<path class="d4" d="M297.5,369 L347.5,417.5"/>
<path class="d4" d="M307.5,401.3 L340,431.3"/>
<path class="d3" d="M530.7,427 L530.7,511.5"/>
<path class="d3" d="M564.5,431.5 L564.5,525.5"/>
<path class="d2" d="M756.3,380 L555,495"/>
<path class="d2" d="M211.3,694.5 L375,601.3"/>
<path class="d" d="M289.5,612.5 L289.5,637.8 L402.5,574.7"/>
<path class="ds" d="M402.5,574.7 L402.5,583.3"/>
<path class="d" d="M269.3,645 L269.3,674.5 L435.8,579.2"/>
<path class="ds" d="M435.8,579.2 L435.8,584"/>
<path class="ds" d="M435.8,587.5 L435.8,597.6"/>
<path class="d" d="M468.3,585.8 L523,612.5 L523,661"/>
<path class="dd" d="M523,662.5 L523,683.5 L540,692"/>
<path class="d" d="M600,525.8 L648.3,548.3 L648.3,588.3 L678.3,601.7"/>
<path class="dd" d="M678.3,601.7 L698.3,613.3"/>
<path class="d3" d="M660,527.5 L838.4,613.3"/>
<path class="d3" d="M660,527.5 L660,541.7"/>
<path class="ds" d="M838.4,613.3 L838.5,604.5"/>
<path class="d3" d="M850.8,603.3 L862,609.2"/>
<path class="d3" d="M469.2,624.2 L653.8,712.5"/>
<path class="d3" d="M469.2,624.2 L469.2,637.5"/>
<path class="ds" d="M653.8,712.5 L653.8,703"/>
<path class="d3" d="M665,706.3 L685,715.5"/>
</g>
<g id="leaders"><path class="k" d="M583.7,81 L583.7,96"/><path class="ah" d="M583.7,100 L581.4,91.5 L586,91.5 Z"/><path class="k" d="M665.7,268.7 L604.38,238.09"/><path class="ah" d="M600.8,236.3 L609.43,238.04 L607.38,242.15 Z"/><path class="k" d="M665.7,268.7 L651.8,214.67"/><path class="ah" d="M650.8,210.8 L655.15,218.46 L650.69,219.61 Z"/><path class="k" d="M317.5,313.3 L332.5,313.3"/><path class="ah" d="M336.5,313.3 L328,315.6 L328,311 Z"/><path class="k" d="M293,339.7 L305.9,339.85"/><path class="ah" d="M309.9,339.9 L301.37,342.1 L301.43,337.5 Z"/><path class="k" d="M273.7,366.6 L286.5,366.83"/><path class="ah" d="M290.5,366.9 L281.96,369.05 L282.04,364.45 Z"/><path class="k" d="M279.2,400.3 L295.6,400.54"/><path class="ah" d="M299.6,400.6 L291.07,402.77 L291.13,398.18 Z"/><path class="k" d="M287,439.2 L300.2,439.2"/><path class="ah" d="M304.2,439.2 L295.7,441.5 L295.7,436.9 Z"/><path class="k" d="M508,304.7 L493.2,304.7"/><path class="ah" d="M489.2,304.7 L497.7,302.4 L497.7,307 Z"/><path class="k" d="M750.5,347 L750.5,362.3"/><path class="ah" d="M750.5,366.3 L748.2,357.8 L752.8,357.8 Z"/><path class="k" d="M219.2,724 L219.2,710.6"/><path class="ah" d="M219.2,706.6 L221.5,715.1 L216.9,715.1 Z"/><path class="k" d="M573,372.5 L537.01,408.86"/><path class="ah" d="M534.2,411.7 L538.54,404.04 L541.81,407.28 Z"/><path class="k" d="M573,372.5 L566.44,412.75"/><path class="ah" d="M565.8,416.7 L564.9,407.94 L569.44,408.68 Z"/><path class="k" d="M502,412 L465.5,465.5 L473.23,478.28"/><path class="ah" d="M475.3,481.7 L468.93,475.62 L472.87,473.24 Z"/><path class="k" d="M251.3,528.7 L266.3,530 L321.3,526.4 L342.72,544.15"/><path class="ah" d="M345.8,546.7 L337.79,543.05 L340.72,539.51 Z"/><path class="k" d="M503.3,539.7 L561.7,540.3 L590.5,528.51"/><path class="ah" d="M594.2,527 L587.2,532.35 L585.46,528.09 Z"/><path class="k" d="M503.5,539.7 L483.7,567.5 L468.33,577.78"/><path class="ah" d="M465,580 L470.79,573.36 L473.34,577.19 Z"/><path class="k" d="M526.4,565 L569.87,551.95"/><path class="ah" d="M573.7,550.8 L566.22,555.45 L564.9,551.04 Z"/><path class="k" d="M526.4,565 L478.89,594.87"/><path class="ah" d="M475.5,597 L481.47,590.53 L483.92,594.42 Z"/><path class="k" d="M250.7,588 L281.25,599.31"/><path class="ah" d="M285,600.7 L276.23,599.91 L277.83,595.59 Z"/><path class="k" d="M250.7,588 L266.2,626.29"/><path class="ah" d="M267.7,630 L262.38,622.98 L266.64,621.26 Z"/><path class="k" d="M361.7,714.3 L405.26,688.35"/><path class="ah" d="M408.7,686.3 L402.57,692.63 L400.22,688.67 Z"/><path class="k" d="M361.7,714.3 L315.93,741.65"/><path class="ah" d="M312.5,743.7 L318.62,737.37 L320.98,741.31 Z"/><path class="k" d="M672.5,512.5 L646.53,526.32"/><path class="ah" d="M643,528.2 L649.42,522.18 L651.58,526.24 Z"/><path class="k" d="M809.5,554 L809.5,565.5"/><path class="ah" d="M809.5,569.5 L807.2,561 L811.8,561 Z"/><path class="k" d="M845,620 L845,610.3"/><path class="ah" d="M845,606.3 L847.3,614.8 L842.7,614.8 Z"/><path class="k" d="M722.5,645 L722.5,634"/><path class="ah" d="M722.5,630 L724.8,638.5 L720.2,638.5 Z"/><path class="k" d="M661.3,722 L661.3,711.5"/><path class="ah" d="M661.3,707.5 L663.6,716 L659,716 Z"/></g>
<g id="badges"><circle class="bp" cx="583.7" cy="66.2" r="15.5"/><text class="tp" x="583.7" y="70.9" textLength="17.6" lengthAdjust="spacingAndGlyphs">A2</text><circle class="bp" cx="665.7" cy="268.7" r="15.5"/><text class="tp" x="665.7" y="273.4" textLength="17.6" lengthAdjust="spacingAndGlyphs">A6</text><circle class="bp" cx="278.2" cy="339.5" r="15.5"/><text class="tp" x="278.2" y="344.2" textLength="24.6" lengthAdjust="spacingAndGlyphs">A15</text><circle class="bp" cx="258.7" cy="366.4" r="15.5"/><text class="tp" x="258.7" y="371.1" textLength="24.6" lengthAdjust="spacingAndGlyphs">A13</text><circle class="bp" cx="263.9" cy="400" r="15.5"/><text class="tp" x="263.9" y="404.7" textLength="24.6" lengthAdjust="spacingAndGlyphs">A14</text><circle class="bp" cx="502" cy="412" r="15.5"/><text class="tp" x="502" y="416.7" textLength="17.6" lengthAdjust="spacingAndGlyphs">A9</text><circle class="bp" cx="251.3" cy="528.7" r="15.5"/><text class="tp" x="251.3" y="533.4" textLength="17.6" lengthAdjust="spacingAndGlyphs">A9</text><circle class="bp" cx="526.4" cy="565" r="15.5"/><text class="tp" x="526.4" y="569.7" textLength="17.6" lengthAdjust="spacingAndGlyphs">A9</text><circle class="bp" cx="808.2" cy="538.7" r="15.5"/><text class="tp" x="808.2" y="543.4" textLength="24.6" lengthAdjust="spacingAndGlyphs">A11</text><circle class="bp" cx="844.5" cy="635" r="15.5"/><text class="tp" x="844.5" y="639.7" textLength="24.6" lengthAdjust="spacingAndGlyphs">A12</text><circle class="bp" cx="722" cy="660" r="15.5"/><text class="tp" x="722" y="664.7" textLength="24.6" lengthAdjust="spacingAndGlyphs">A10</text><circle class="bp" cx="661.3" cy="736.7" r="15.5"/><text class="tp" x="661.3" y="741.4" textLength="24.6" lengthAdjust="spacingAndGlyphs">A12</text><circle class="bw" cx="303.7" cy="313.3" r="13.5"/><text class="tw" x="303.7" y="317.5">A4</text><circle class="bw" cx="273.3" cy="439" r="13.5"/><text class="tw" x="273.3" y="443.2">A3</text><circle class="bw" cx="521.3" cy="304.7" r="13.5"/><text class="tw" x="521.3" y="308.9">A3</text><circle class="bw" cx="750.5" cy="333.7" r="13.5"/><text class="tw" x="750.5" y="337.9">A5</text><circle class="bw" cx="219.2" cy="737.7" r="13.5"/><text class="tw" x="219.2" y="741.9">A5</text><circle class="bw" cx="573" cy="372.5" r="13.5"/><text class="tw" x="573" y="376.7">A8</text><circle class="bw" cx="503.5" cy="539.7" r="13.5"/><text class="tw" x="503.5" y="543.9">A8</text><circle class="bw" cx="250.7" cy="588" r="13.5"/><text class="tw" x="250.7" y="592.2">A8</text><circle class="bw" cx="361.7" cy="714.3" r="13.5"/><text class="tw" x="361.7" y="718.5">A7</text><rect class="bx" x="672.5" y="478.7" width="77" height="37.6"/><text class="tb" x="711.6" y="500.8" xml:space="preserve">A1a  /  A1b</text></g>
</g>
</svg>
</body></html>
